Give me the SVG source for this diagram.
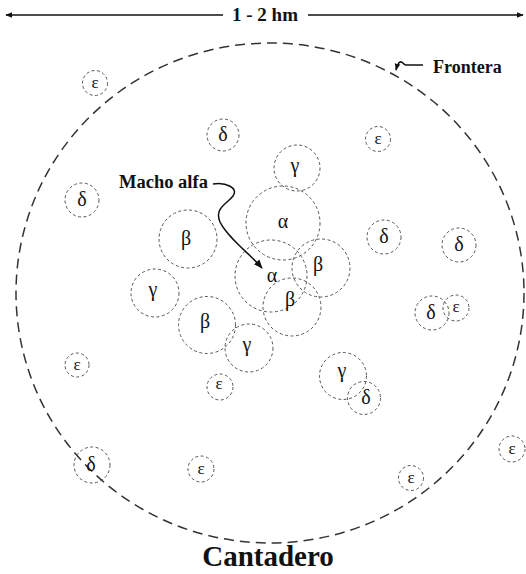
<svg xmlns="http://www.w3.org/2000/svg" width="526" height="574" viewBox="0 0 526 574">
<style>
.t{font-family:"Liberation Serif","Times New Roman",serif;font-weight:bold;fill:#111}
.g{font-family:"Liberation Serif","DejaVu Serif",serif;font-size:20px;fill:#111;text-anchor:middle}
.e{font-size:17px}
.c{fill:none;stroke:#555;stroke-width:1;stroke-dasharray:3 2.5}
.ln{fill:none;stroke:#111;stroke-width:1.5}
</style>
<defs>
<marker id="ah" viewBox="0 0 10 10" refX="9" refY="5" markerWidth="7" markerHeight="7" orient="auto-start-reverse" markerUnits="userSpaceOnUse"><path d="M0,1 L10,5 L0,9 Z" fill="#111"/></marker>
<marker id="ah2" viewBox="0 0 10 10" refX="9" refY="5" markerWidth="9" markerHeight="9" orient="auto" markerUnits="userSpaceOnUse"><path d="M0,1 L10,5 L0,9 Z" fill="#111"/></marker>
</defs>
<rect width="526" height="574" fill="#fff"/>
<g id="scale">
<line class="ln" x1="6" y1="15" x2="223" y2="15" marker-start="url(#ah)"/>
<line class="ln" x1="308" y1="15" x2="523" y2="15" marker-end="url(#ah)"/>
<text class="t" x="265" y="21" font-size="19" text-anchor="middle">1 - 2 hm</text>
</g>
<g id="frontera">
<ellipse cx="270" cy="293" rx="254" ry="250" fill="none" stroke="#333" stroke-width="1.5" stroke-dasharray="10 6"/>
</g>
<g id="connectors">
<path class="ln" d="M423,65 L406,65 C403,65 403,61 400,62 C398,63 397,66 396,70" stroke-width="1.2" marker-end="url(#ah)"/>
<path class="ln" d="M213,184 C226,182 239,188 233,196 C227,204 214,208 220,222 C228,238 248,252 262,268" stroke-width="1.3" marker-end="url(#ah2)"/>
</g>
<g id="labels">
<text class="t" x="433" y="73" font-size="18">Frontera</text>
<text class="t" x="119" y="188" font-size="18.5">Macho alfa</text>
<text class="t" x="268" y="566" font-size="29" text-anchor="middle">Cantadero</text>
</g>
<g id="n1"><circle class="c" cx="95" cy="83" r="12.5"/><text class="g e" x="95" y="88">ε</text></g>
<g id="n2"><circle class="c" cx="223" cy="135" r="16"/><text class="g" x="223" y="141">δ</text></g>
<g id="n3"><circle class="c" cx="378" cy="139" r="12.5"/><text class="g e" x="378" y="144">ε</text></g>
<g id="n4"><circle class="c" cx="297" cy="168" r="23"/><text class="g" x="295" y="172">γ</text></g>
<g id="n5"><circle class="c" cx="82" cy="200" r="17"/><text class="g" x="82" y="206">δ</text></g>
<g id="n6"><circle class="c" cx="283" cy="223" r="37"/><text class="g" x="283" y="228">α</text></g>
<g id="n7"><circle class="c" cx="188" cy="239" r="29"/><text class="g" x="186" y="245">β</text></g>
<g id="n8"><circle class="c" cx="384" cy="237" r="17"/><text class="g" x="384" y="243">δ</text></g>
<g id="n9"><circle class="c" cx="459" cy="245" r="17"/><text class="g" x="459" y="251">δ</text></g>
<g id="n10"><circle class="c" cx="271" cy="276" r="36"/><text class="g" x="272" y="282">α</text></g>
<g id="n11"><circle class="c" cx="321" cy="268" r="29"/><text class="g" x="318" y="271">β</text></g>
<g id="n12"><circle class="c" cx="155" cy="293" r="24"/><text class="g" x="153" y="296">γ</text></g>
<g id="n13"><circle class="c" cx="292" cy="307" r="29"/><text class="g" x="290" y="306">β</text></g>
<g id="n14"><circle class="c" cx="207" cy="325" r="28.5"/><text class="g" x="205" y="328">β</text></g>
<g id="n15"><circle class="c" cx="432" cy="313" r="17"/><text class="g" x="431" y="319">δ</text></g>
<g id="n16"><circle class="c" cx="456" cy="308" r="13"/><text class="g e" x="456" y="312">ε</text></g>
<g id="n17"><circle class="c" cx="249" cy="348" r="24"/><text class="g" x="247" y="351">γ</text></g>
<g id="n18"><circle class="c" cx="77" cy="365" r="12"/><text class="g e" x="77" y="370">ε</text></g>
<g id="n19"><circle class="c" cx="220" cy="387" r="13"/><text class="g e" x="219" y="389">ε</text></g>
<g id="n20"><circle class="c" cx="343" cy="376" r="23.5"/><text class="g" x="342" y="377">γ</text></g>
<g id="n21"><circle class="c" cx="364" cy="398" r="16.5"/><text class="g" x="366" y="404">δ</text></g>
<g id="n22"><circle class="c" cx="512" cy="449" r="13"/><text class="g e" x="512" y="454">ε</text></g>
<g id="n23"><circle class="c" cx="92" cy="465" r="18"/><text class="g" x="91" y="471">δ</text></g>
<g id="n24"><circle class="c" cx="201" cy="469" r="13"/><text class="g e" x="201" y="474">ε</text></g>
<g id="n25"><circle class="c" cx="411" cy="478" r="12.5"/><text class="g e" x="411" y="483">ε</text></g>
</svg>
